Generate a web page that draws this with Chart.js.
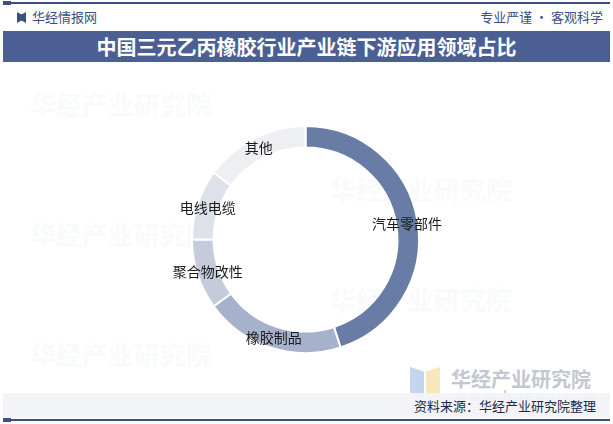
<!DOCTYPE html>
<html>
<head>
<meta charset="utf-8">
<script src="https://cdn.jsdelivr.net/npm/chart.js@4/dist/chart.umd.min.js"></script>
<style>
  html, body { margin: 0; padding: 0; background: #fff; }
  body { width: 613px; height: 424px; position: relative; overflow: hidden;
         font-family: "Noto Sans CJK SC", "Microsoft YaHei", sans-serif; }
  .topline { position: absolute; left: 3px; top: 2px; width: 607px; height: 2px; background: #3c4f82; }
  .topline:before { content: ""; position: absolute; left: 0; top: -1px; width: 8px; height: 4px; background: #3c4f82; }
  .brand { position: absolute; left: 17px; top: 8px; font-size: 13px; color: #3c4f82; line-height: 18px; }
  .brand i { display: inline-block; width: 9px; height: 11px; background: #3c4f82; margin-right: 6px; vertical-align: -1px;
             clip-path: polygon(0 0, 45% 20%, 55% 20%, 100% 0, 100% 100%, 55% 80%, 45% 80%, 0 100%); }
  .motto { position: absolute; right: 10px; top: 8px; font-size: 13px; color: #3c4f82; line-height: 18px; }
  .title { position: absolute; left: 3px; top: 31px; width: 607px; height: 31px; background: #4b5f94;
           color: #fff; font-size: 20px; font-weight: bold; text-align: center; line-height: 31px; }
  .wm { position: absolute; color: #3c4f82; opacity: 0.025; font-size: 26px; font-weight: bold; white-space: nowrap; }
  .wm2 { position: absolute; left: 451px; top: 364px; color: #c3c7cf; font-size: 20px; font-weight: bold; white-space: nowrap; }
  .wm3 { position: absolute; left: 455px; top: 385px; color: #cdd0d6; font-size: 14px; font-weight: bold; letter-spacing: 2px; }
  .logo1 { position: absolute; left: 410px; top: 367px; width: 14px; height: 30px; background: #c4d5ee;
           clip-path: polygon(0 0, 100% 15%, 100% 100%, 0 85%); }
  .logo2 { position: absolute; left: 426px; top: 367px; width: 14px; height: 30px; background: #f7e8bb;
           clip-path: polygon(0 15%, 100% 0, 100% 85%, 0 100%); }
  .footband { position: absolute; left: 3px; top: 393px; width: 607px; height: 25px; background: rgba(241,243,247,0.92); }
  .source { position: absolute; right: 17px; top: 398px; font-size: 13px; color: #1f2a44; line-height: 16px; }
  .bottomline { position: absolute; left: 3px; top: 419px; width: 607px; height: 2px; background: #3c4f82; }
  .bottomline:before { content: ""; position: absolute; left: 0; top: -1px; width: 8px; height: 4px; background: #3c4f82; }
  #wrap { position: absolute; left: 0; top: 0; width: 613px; height: 424px; }
</style>
</head>
<body>
  <div class="topline"></div>
  <div class="brand"><i></i>华经情报网</div>
  <div class="motto">专业严谨 • 客观科学</div>
  <div class="title">中国三元乙丙橡胶行业产业链下游应用领域占比</div>

  <div class="wm" style="left:30px;top:85px">华经产业研究院</div>
  <div class="wm" style="left:330px;top:170px">华经产业研究院</div>
  <div class="wm" style="left:30px;top:215px">华经产业研究院</div>
  <div class="wm" style="left:330px;top:280px">华经产业研究院</div>
  <div class="wm" style="left:30px;top:335px">华经产业研究院</div>

  <div class="logo1"></div>
  <div class="logo2"></div>
  <div class="wm2">华经产业研究院</div>
  <div class="wm3">www.huaon.com</div>
  <div class="footband"></div>
  <div class="source">资料来源：华经产业研究院整理</div>
  <div class="bottomline"></div>

  <div id="wrap"><canvas id="chart"></canvas></div>

<script>
  const categories = ['汽车零部件', '橡胶制品', '聚合物改性', '电线电缆', '其他'];
  const shares = [45, 20, 10, 10, 15];
  const sliceColors = ['#687ca6', '#a6b1cb', '#c5cbda', '#dde1ea', '#eeeff2'];

  // labels sit on the ring's midline, like the reference
  const ringLabels = {
    id: 'ringLabels',
    afterDatasetsDraw(chart) {
      const ctx = chart.ctx;
      const meta = chart.getDatasetMeta(0);
      ctx.save();
      ctx.font = '14px "Noto Sans CJK SC", sans-serif';
      ctx.fillStyle = '#1a1a1a';
      ctx.textAlign = 'center';
      ctx.textBaseline = 'middle';
      meta.data.forEach((arc, i) => {
        const p = arc.tooltipPosition();
        ctx.fillText(chart.data.labels[i], p.x, p.y);
      });
      ctx.restore();
    }
  };

  new Chart(document.getElementById('chart'), {
    type: 'doughnut',
    data: {
      labels: categories,
      datasets: [{
        data: shares,
        backgroundColor: sliceColors,
        borderColor: '#ffffff',
        borderWidth: 2,
      }]
    },
    options: {
      responsive: true,
      maintainAspectRatio: false,
      animation: false,
      cutout: '81%',
      layout: { padding: { left: 191, right: 193, top: 125, bottom: 70 } },
      plugins: { legend: { display: false }, tooltip: { enabled: false } },
    },
    plugins: [ringLabels],
  });
</script>
</body>
</html>
